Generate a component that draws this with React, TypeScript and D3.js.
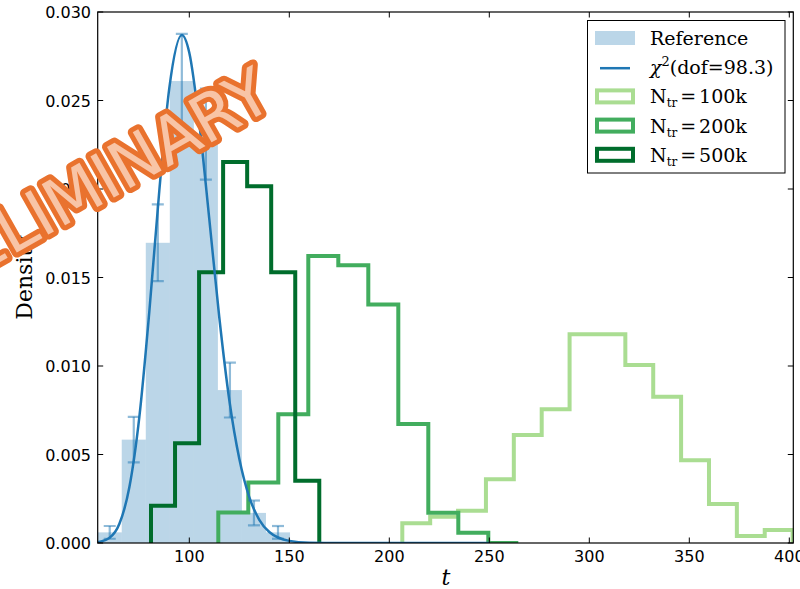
import React, { useEffect, useRef } from "react";
import * as d3 from "d3";

// reference sample histogram (density per bin) + error bars
const refStart = 54.2;
const refWidth = 12.02;
const refDensity = [0.0006, 0.00584, 0.01696, 0.0261, 0.0231, 0.00864, 0.0017, 0.0006];
const refError = [0.00036, 0.00129, 0.00217, 0.00266, 0.00257, 0.00155, 0.0007, 0.00036];

// chi2(dof=98.3) curve
const chiT = [54.2, 60, 65, 70, 75, 80, 85, 90, 96.3, 100, 105, 110, 115, 120, 125, 130, 135, 140, 150, 160, 175, 250];
const chiDensity = [0.00004, 0.00028, 0.00107, 0.00313, 0.0071, 0.01306, 0.0199, 0.0257, 0.0287, 0.0277, 0.0237, 0.0183, 0.01274, 0.00808, 0.00476, 0.00259, 0.00131, 0.00062, 0.00012, 0.00002, 0, 0];

// trained-model histograms
const n100kStart = 206.5;
const n100kWidth = 13.94;
const n100k = [0.00111, 0.00149, 0.00182, 0.0036, 0.0061, 0.00756, 0.0118, 0.0118, 0.01006, 0.00826, 0.00468, 0.0022, 0.0004, 0.00073];
const n200kStart = 114.5;
const n200kWidth = 15.0;
const n200k = [0.00173, 0.00342, 0.00728, 0.01621, 0.01569, 0.01347, 0.00673, 0.00171, 0.00058, 0.0];
const n500kStart = 80.85;
const n500kWidth = 12.02;
const n500k = [0.0021, 0.00563, 0.0153, 0.02152, 0.02016, 0.0153, 0.00352];

const xTicks = [100, 150, 200, 250, 300, 350, 400];
const yTicks = [0, 0.005, 0.01, 0.015, 0.02, 0.025, 0.03];

const blue = "#1f77b4";
const greens = { "100k": "#aadd92", "200k": "#42ad5e", "500k": "#006d2c" };

const App = () => {
  const ref = useRef<SVGSVGElement>(null);

  useEffect(() => {
    const W = 800, H = 589;
    const left = 97.7, right = 793.3, top = 12, bottom = 543;
    const x = d3.scaleLinear().domain([54.2, 402]).range([left, right]);
    const y = d3.scaleLinear().domain([0, 0.03]).range([bottom, top]);

    const svg = d3.select(ref.current)
      .attr("width", W)
      .attr("height", H);
    svg.selectAll("*").remove();

    svg.append("defs").append("clipPath").attr("id", "plot-clip")
      .append("rect")
      .attr("x", left).attr("y", top)
      .attr("width", right - left).attr("height", bottom - top);

    const plot = svg.append("g").attr("clip-path", "url(#plot-clip)");

    // reference bars
    plot.selectAll("rect.ref")
      .data(refDensity)
      .join("rect")
      .attr("class", "ref")
      .attr("x", (d, i) => x(refStart + i * refWidth))
      .attr("width", x(refStart + refWidth) - x(refStart))
      .attr("y", d => y(d))
      .attr("height", d => y(0) - y(d))
      .attr("fill", blue)
      .attr("fill-opacity", 0.3);

    // step histograms
    const step = d3.line<[number, number]>()
      .x(d => x(d[0]))
      .y(d => y(d[1]))
      .curve(d3.curveStepAfter);
    const stepPoints = (start: number, w: number, vals: number[]): [number, number][] => [
      [start, 0],
      ...vals.map((v, i) => [start + i * w, v] as [number, number]),
      [start + vals.length * w, 0],
    ];
    const hists = [
      { vals: n100k, start: n100kStart, w: n100kWidth, color: greens["100k"] },
      { vals: n200k, start: n200kStart, w: n200kWidth, color: greens["200k"] },
      { vals: n500k, start: n500kStart, w: n500kWidth, color: greens["500k"] },
    ];
    hists.forEach(h => {
      plot.append("path")
        .attr("d", step(stepPoints(h.start, h.w, h.vals)))
        .attr("fill", "none")
        .attr("stroke", h.color)
        .attr("stroke-width", 4);
    });

    // error bars
    const eb = plot.selectAll("g.err")
      .data(refDensity)
      .join("g")
      .attr("class", "err")
      .attr("stroke", blue)
      .attr("stroke-opacity", 0.5)
      .attr("stroke-width", 2.2);
    const cx = (i: number) => x(refStart + (i + 0.5) * refWidth);
    eb.append("line")
      .attr("x1", (d, i) => cx(i)).attr("x2", (d, i) => cx(i))
      .attr("y1", (d, i) => y(d + refError[i])).attr("y2", (d, i) => y(Math.max(0, d - refError[i])));
    [1, -1].forEach(s => {
      eb.append("line")
        .attr("x1", (d, i) => cx(i) - 6).attr("x2", (d, i) => cx(i) + 6)
        .attr("y1", (d, i) => y(d + s * refError[i])).attr("y2", (d, i) => y(d + s * refError[i]));
    });

    // chi2 curve
    const chiLine = d3.line<number>()
      .x((d, i) => x(chiT[i]))
      .y(d => y(d))
      .curve(d3.curveMonotoneX);
    plot.append("path")
      .attr("d", chiLine(chiDensity))
      .attr("fill", "none")
      .attr("stroke", blue)
      .attr("stroke-width", 2.5);

    // frame + ticks
    svg.append("rect")
      .attr("x", left).attr("y", top)
      .attr("width", right - left).attr("height", bottom - top)
      .attr("fill", "none").attr("stroke", "#000").attr("stroke-width", 1.2);

    const tk = svg.append("g").attr("stroke", "#000").attr("stroke-width", 1);
    xTicks.forEach(t => {
      tk.append("line").attr("x1", x(t)).attr("x2", x(t)).attr("y1", bottom).attr("y2", bottom - 5.5);
      tk.append("line").attr("x1", x(t)).attr("x2", x(t)).attr("y1", top).attr("y2", top + 5.5);
    });
    yTicks.forEach(v => {
      tk.append("line").attr("x1", left).attr("x2", left + 5.5).attr("y1", y(v)).attr("y2", y(v));
      tk.append("line").attr("x1", right).attr("x2", right - 5.5).attr("y1", y(v)).attr("y2", y(v));
    });

    svg.append("g")
      .attr("font-family", "DejaVu Sans").attr("font-size", 16).attr("text-anchor", "middle")
      .selectAll("text").data(xTicks).join("text")
      .attr("x", d => x(d)).attr("y", 562)
      .text(d => d3.format("d")(d));
    svg.append("g")
      .attr("font-family", "DejaVu Sans").attr("font-size", 16).attr("text-anchor", "end")
      .selectAll("text").data(yTicks).join("text")
      .attr("x", 91).attr("y", d => y(d) + 6)
      .text(d => d3.format(".3f")(d));

    // axis labels
    svg.append("text")
      .attr("x", 446).attr("y", 585)
      .attr("font-family", "DejaVu Serif").attr("font-style", "italic").attr("font-size", 22)
      .attr("text-anchor", "middle")
      .text("t");
    svg.append("text")
      .attr("transform", `translate(32,${(top + bottom) / 2}) rotate(-90)`)
      .attr("font-family", "DejaVu Serif").attr("font-size", 22)
      .attr("text-anchor", "middle")
      .text("Density");

    // legend
    const lg = svg.append("g").attr("font-family", "DejaVu Serif").attr("font-size", 19);
    lg.append("rect")
      .attr("x", 587.5).attr("y", 20.5).attr("width", 197.5).attr("height", 152.5)
      .attr("fill", "#fff").attr("stroke", "#000").attr("stroke-width", 1);
    const base = (i: number) => 45 + i * 29.2;
    lg.append("rect").attr("x", 595).attr("y", base(0) - 14).attr("width", 40).attr("height", 14)
      .attr("fill", blue).attr("fill-opacity", 0.3);
    lg.append("text").attr("x", 650).attr("y", base(0)).text("Reference");
    lg.append("line").attr("x1", 600).attr("x2", 630).attr("y1", base(1) - 6).attr("y2", base(1) - 6)
      .attr("stroke", blue).attr("stroke-width", 2.5);
    const chiText = lg.append("text").attr("x", 650).attr("y", base(1));
    chiText.append("tspan").attr("font-style", "italic").text("χ");
    chiText.append("tspan").attr("font-size", 13).attr("dy", -8).text("2");
    chiText.append("tspan").attr("dy", 8).text("(dof=98.3)");

    (["100k", "200k", "500k"] as const).forEach((k, j) => {
      const b = base(j + 2);
      lg.append("rect").attr("x", 597).attr("y", b - 13).attr("width", 36).attr("height", 12)
        .attr("fill", "#fff").attr("stroke", greens[k]).attr("stroke-width", 4);
      const t = lg.append("text").attr("x", 650).attr("y", b);
      t.append("tspan").text("N");
      t.append("tspan").attr("font-size", 12).attr("dy", 4).text("tr");
      t.append("tspan").attr("dy", -4).attr("dx", 3).text("=");
      t.append("tspan").attr("dx", 3).text(k);
    });

    // watermark: light fill over a wide orange outline
    svg.append("text")
      .attr("transform", "translate(78,192) rotate(-29.5)")
      .attr("text-anchor", "middle")
      .attr("dominant-baseline", "central")
      .attr("font-family", "DejaVu Sans").attr("font-size", 65)
      .attr("fill", "#f8c4a6")
      .attr("stroke", "#e9722e").attr("stroke-width", 10)
      .attr("stroke-linejoin", "round").attr("stroke-linecap", "round")
      .attr("paint-order", "stroke")
      .text("PRELIMINARY");
  }, []);

  return (
    <div style={{ position: "absolute", left: 0, top: 0 }}>
      <svg ref={ref} style={{ display: "block", background: "#fff" }}></svg>
    </div>
  );
};

export default App;
